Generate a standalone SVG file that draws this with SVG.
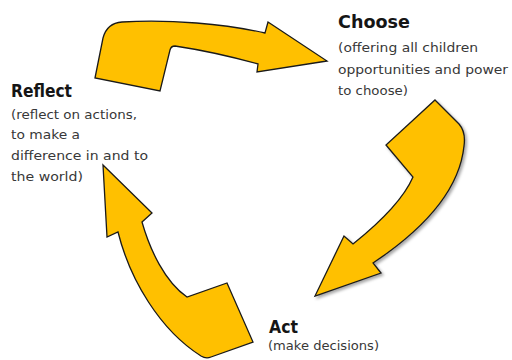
<svg xmlns="http://www.w3.org/2000/svg" width="512" height="360" viewBox="0 0 512 360">
  <defs>
    <filter id="shadow" x="-10%" y="-10%" width="130%" height="130%">
      <feDropShadow dx="2" dy="2" stdDeviation="1.5" flood-color="#000" flood-opacity="0.35"/>
    </filter>
    <style>
      .arrow { fill: #FFC000; stroke: #1a1a1a; stroke-width: 1.3; stroke-linejoin: miter; }
      .shadowed { filter: url(#shadow); }
      .title { font-family: "DejaVu Sans", "Liberation Sans", sans-serif; font-weight: bold; font-size: 17px; fill: #151515; }
      .body { font-family: "DejaVu Sans", "Liberation Sans", sans-serif; font-size: 13px; fill: #383838; }
    </style>
  </defs>
  <rect width="512" height="360" fill="#ffffff"/>

  <g id="connectors">
    <path id="arrow-reflect-choose" class="arrow" d="M95,78 L103,38 Q107,23 122,22 C170,19 225,24 265,33 L268,22 L327,61 L257,72 L258,64 Q215,52 175,46 Q171,46 170,50 L160,91 Z"/>
    <path id="arrow-choose-act" class="arrow shadowed" d="M435,100 L459,124 Q466,132 464,146 C460,185 430,225 373,263 L381,273 L315,296 L344,236 L353,244 C378,224 403,200 413,177 L386,145 Z"/>
    <path id="arrow-act-reflect" class="arrow" d="M103,165 L152,213 L142,222 C150,250 165,282 187,297 L227,283 L253,342 L211,357 Q206,359 201,356 C160,330 130,280 118,232 L107,237 Z"/>
  </g>

  <g id="node-choose">
    <text class="title" x="338" y="28" textLength="72" lengthAdjust="spacingAndGlyphs">Choose</text>
    <text class="body" x="338" y="52" textLength="140" lengthAdjust="spacingAndGlyphs">(offering all children</text>
    <text class="body" x="338" y="74" textLength="170" lengthAdjust="spacingAndGlyphs">opportunities and power</text>
    <text class="body" x="338" y="95" textLength="70" lengthAdjust="spacingAndGlyphs">to choose)</text>
  </g>

  <g id="node-reflect">
    <text class="title" x="11" y="97" textLength="61" lengthAdjust="spacingAndGlyphs">Reflect</text>
    <text class="body" x="11" y="119" textLength="126" lengthAdjust="spacingAndGlyphs">(reflect on actions,</text>
    <text class="body" x="11" y="139" textLength="69" lengthAdjust="spacingAndGlyphs">to make a</text>
    <text class="body" x="11" y="160" textLength="137" lengthAdjust="spacingAndGlyphs">difference in and to</text>
    <text class="body" x="11" y="181" textLength="72" lengthAdjust="spacingAndGlyphs">the world)</text>
  </g>

  <g id="node-act">
    <text class="title" x="269" y="333" textLength="29" lengthAdjust="spacingAndGlyphs">Act</text>
    <text class="body" x="268" y="350" textLength="111" lengthAdjust="spacingAndGlyphs">(make decisions)</text>
  </g>
</svg>
